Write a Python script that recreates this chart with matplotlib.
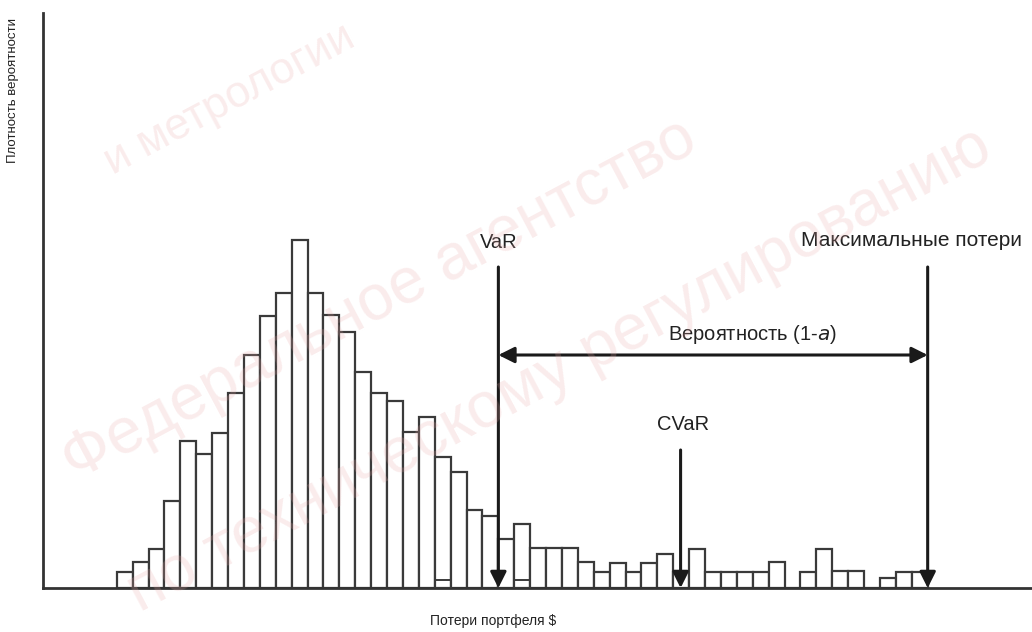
import numpy as np
import matplotlib
matplotlib.use("Agg")
import matplotlib.pyplot as plt

# bar heights (density, arbitrary units), one per bin
heights = [16, 26, 39, 87, 147, 134, 155, 195, 233, 272, 295, 348, 295, 273,
           256, 216, 195, 187, 156, 171, 131, 116, 78, 72, 49, 64, 40, 40,
           40, 26, 16, 25, 16, 25, 34, 16, 39, 16, 16, 16, 16, 26, 0, 16,
           39, 17, 17, 0, 10, 16, 16]
# small overlaid bars in the tail (bin index -> height)
overlay_bins = [20, 25]
overlay_heights = [8, 8]

first_bin = 4.64      # left edge of first bin, in bin units
var_bin = 24          # VaR sits at left edge of this bin
max_bin = 51          # maximal losses
cvar_x = 40.1

var_top = 321
max_top = 321
cvar_top = 138
prob_y = 233

plt.rcParams['font.family'] = ['Liberation Sans', 'DejaVu Sans']

fig = plt.figure(figsize=(10.32, 6.32), dpi=100)
ax = fig.add_axes([43 / 1032, 44 / 632, 989 / 1032, 575 / 632])

edges = first_bin + np.arange(len(heights))
ax.bar(edges, heights, width=1.0, align='edge', facecolor='white',
       edgecolor='#3a3a3a', linewidth=1.6, zorder=2)
ax.bar(first_bin + np.array(overlay_bins), overlay_heights, width=1.0,
       align='edge', facecolor='none', edgecolor='#3a3a3a', linewidth=1.4, zorder=3)

var_x = first_bin + var_bin
max_x = first_bin + max_bin

arrow = dict(arrowstyle='-|>', color='#1a1a1a', lw=2.2, mutation_scale=24,
             shrinkA=0, shrinkB=0)
ax.annotate('', xy=(var_x, 0), xytext=(var_x, var_top), arrowprops=arrow, zorder=5)
ax.annotate('', xy=(max_x, 0), xytext=(max_x, max_top), arrowprops=arrow, zorder=5)
ax.annotate('', xy=(cvar_x, 0), xytext=(cvar_x, cvar_top), arrowprops=arrow, zorder=5)
ax.annotate('', xy=(var_x, prob_y), xytext=(max_x, prob_y),
            arrowprops=dict(arrowstyle='<|-|>', color='#1a1a1a', lw=2.2,
                            mutation_scale=24, shrinkA=0, shrinkB=0), zorder=5)

tc = '#222222'
ax.text(var_x, 346, 'VaR', ha='center', va='center', fontsize=14.5, color=tc)
ax.text(max_x - 1.0, 348, 'Максимальные потери', ha='center', va='center',
        fontsize=15, color=tc)
ax.text(44.6, 253, 'Вероятность (1-$\\it{a}$)', ha='center', va='center',
        fontsize=14.5, color=tc)
ax.text(cvar_x + 0.15, 163, 'CVaR', ha='center', va='center', fontsize=14.5, color=tc)

ax.set_xlim(0, 989 / 15.9)
ax.set_ylim(0, 575)
for s in ['top', 'right']:
    ax.spines[s].set_visible(False)
for s in ['left', 'bottom']:
    ax.spines[s].set_color('#333333')
    ax.spines[s].set_linewidth(2)
ax.set_xticks([])
ax.set_yticks([])

fig.text(493 / 1032, 1 - 621 / 632, 'Потери портфеля $', ha='center', va='center',
         fontsize=10, color=tc)
fig.text(13 / 1032, 1 - 18 / 632, 'Плотность вероятности', ha='center', va='top',
         rotation=90, fontsize=9.5, color=tc)

# faint watermark of the source document
wm = dict(color='#e9a8a8', alpha=0.22, ha='center', va='center',
          rotation=28, zorder=10)
fig.text(380 / 1032, 1 - 300 / 632, 'Федеральное агентство', fontsize=46, **wm)
fig.text(560 / 1032, 1 - 370 / 632, 'по техническому регулированию', fontsize=46, **wm)
fig.text(230 / 1032, 1 - 100 / 632, 'и метрологии', fontsize=32, **wm)

fig.savefig('out.png', dpi=100)
